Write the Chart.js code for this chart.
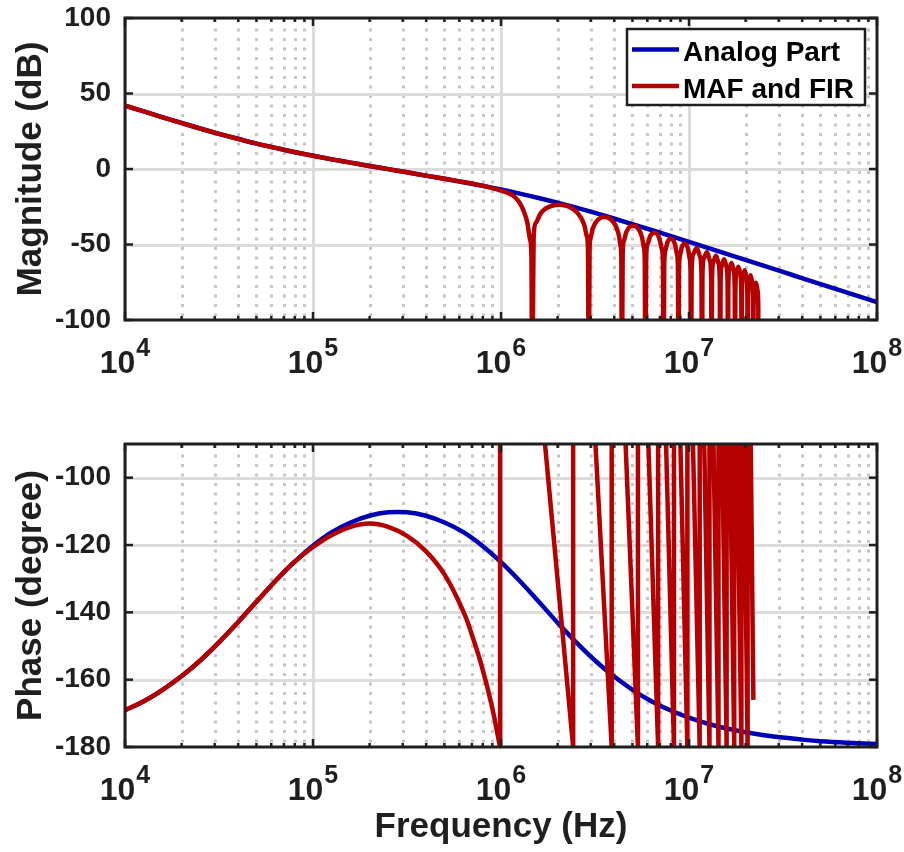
<!DOCTYPE html>
<html>
<head>
<meta charset="utf-8">
<script src="https://cdn.jsdelivr.net/npm/chart.js@4.4.1/dist/chart.umd.min.js"></script>
<style>
  html, body { margin: 0; padding: 0; background: #ffffff; }
  #wrap { position: relative; width: 904px; height: 852px; overflow: hidden; }
  canvas { position: absolute; left: 0; }
  #mag { top: 0; }
  #phase { top: 400px; }
</style>
</head>
<body>
<div id="wrap">
  <canvas id="mag" width="904" height="400"></canvas>
  <canvas id="phase" width="904" height="452"></canvas>
</div>
<script>
// ---- axis ticks ----
const xMajorTicks = [1e4, 1e5, 1e6, 1e7, 1e8];
const xMinorTicks = [
  2e4, 3e4, 4e4, 5e4, 6e4, 7e4, 8e4, 9e4,
  2e5, 3e5, 4e5, 5e5, 6e5, 7e5, 8e5, 9e5,
  2e6, 3e6, 4e6, 5e6, 6e6, 7e6, 8e6, 9e6,
  2e7, 3e7, 4e7, 5e7, 6e7, 7e7, 8e7, 9e7
];
const magTicks = [-100, -50, 0, 50, 100];
const phaseTicks = [-180, -160, -140, -120, -100];

// ---- analog part (Hz, dB, degree) ----
const freqAnalog = [
  1e4, 1.259e4, 1.585e4, 1.995e4, 2.512e4, 3.162e4, 3.981e4, 5.012e4, 6.31e4, 7.943e4,
  1e5, 1.259e5, 1.585e5, 1.995e5, 2.512e5, 3.162e5, 3.981e5, 5.012e5, 6.31e5, 7.943e5,
  1e6, 1.259e6, 1.585e6, 1.995e6, 2.512e6, 3.162e6, 3.981e6, 5.012e6, 6.31e6, 7.943e6,
  1e7, 1.259e7, 1.585e7, 1.995e7, 2.512e7, 3.162e7, 3.981e7, 5.012e7, 6.31e7, 7.943e7,
  1e8
];
const magAnalog = [
  42.0, 38.1, 34.2, 30.5, 26.8, 23.3, 20.0, 16.8, 14.0, 11.3,
  8.8, 6.4, 4.2, 2.0, -0.1, -2.2, -4.4, -6.5, -8.8, -11.1,
  -13.6, -16.3, -19.2, -22.3, -25.6, -29.1, -32.8, -36.6, -40.4, -44.3,
  -48.3, -52.2, -56.2, -60.2, -64.2, -68.2, -72.2, -76.2, -80.2, -84.2,
  -88.2
];
const phaseAnalog = [
  -169.1, -166.4, -163.0, -159.0, -154.3, -148.9, -143.0, -136.8, -130.7, -125.1,
  -120.2, -116.2, -113.3, -111.3, -110.3, -110.3, -111.3, -113.3, -116.2, -120.2,
  -125.1, -130.7, -136.8, -143.0, -148.9, -154.3, -159.0, -163.0, -166.4, -169.1,
  -171.3, -173.1, -174.5, -175.6, -176.5, -177.2, -177.8, -178.3, -178.6, -178.9,
  -179.1
];

// ---- MAF and FIR: magnitude (notches sit far below the axis floor) ----
const freqMafMag = [
  1e4, 1.259e4, 1.585e4, 1.995e4, 2.512e4, 3.162e4, 3.981e4, 5.012e4, 6.31e4, 7.943e4,
  1e5, 1.259e5, 1.585e5, 1.995e5, 2.512e5, 3.162e5, 3.981e5, 5.012e5, 6.31e5, 7.943e5,
  8.913e5, 1e6, 1.122e6, 1.202e6, 1.259e6, 1.318e6, 1.380e6, 1.429e6, 1.452e6, 1.465e6,
  1.494e6, 1.538e6, 1.612e6, 1.685e6, 1.758e6, 1.905e6, 2.051e6, 2.198e6, 2.344e6, 2.491e6,
  2.637e6, 2.710e6, 2.784e6, 2.857e6, 2.901e6, 2.930e6,
  2.959e6, 3.003e6, 3.077e6, 3.223e6, 3.370e6, 3.516e6, 3.663e6, 3.809e6, 3.956e6, 4.102e6,
  4.249e6, 4.322e6, 4.366e6, 4.395e6,
  4.439e6, 4.512e6, 4.615e6, 4.761e6, 4.908e6, 5.128e6, 5.347e6, 5.494e6, 5.640e6, 5.743e6,
  5.816e6, 5.860e6,
  5.919e6, 6.036e6, 6.226e6, 6.593e6, 6.959e6, 7.149e6, 7.266e6, 7.325e6,
  7.384e6, 7.501e6, 7.691e6, 8.058e6, 8.424e6, 8.614e6, 8.731e6, 8.790e6,
  8.849e6, 8.966e6, 9.156e6, 9.523e6, 9.889e6, 1.0079e7, 1.0196e7, 1.0255e7,
  1.0328e7, 1.0548e7, 1.0988e7, 1.1427e7, 1.1647e7, 1.172e7,
  1.1793e7, 1.2013e7, 1.2453e7, 1.2892e7, 1.3112e7, 1.3185e7,
  1.3258e7, 1.3478e7, 1.3918e7, 1.4357e7, 1.4577e7, 1.465e7,
  1.4723e7, 1.4943e7, 1.5383e7, 1.5822e7, 1.6042e7, 1.6115e7,
  1.6188e7, 1.6408e7, 1.6848e7, 1.7287e7, 1.7507e7, 1.758e7,
  1.7653e7, 1.7873e7, 1.8313e7, 1.8752e7, 1.8972e7, 1.9045e7,
  1.9118e7, 1.9338e7, 1.9778e7, 2.0217e7, 2.0437e7, 2.051e7,
  2.0583e7, 2.0803e7, 2.1243e7, 2.1682e7, 2.1902e7, 2.1975e7,
  2.2048e7, 2.2268e7, 2.2708e7, 2.3147e7, 2.3367e7, 2.344e7
];
const magMaf = [
  42.0, 38.1, 34.2, 30.5, 26.8, 23.3, 20.0, 16.8, 14.0, 11.3,
  8.8, 6.4, 4.2, 2.0, -0.1, -2.2, -4.4, -6.5, -8.6, -11.0,
  -12.5, -14.3, -16.6, -19.4, -22.6, -27.6, -35.5, -47.0, -58.0, -150,
  -43.0, -35.4, -30.1, -27.3, -25.7, -24.0, -23.6, -24.2, -25.5, -27.8,
  -31.5, -34.1, -37.9, -44.2, -52.4, -150,
  -52.7, -45.0, -39.4, -34.6, -32.5, -31.8, -32.0, -33.0, -35.1, -38.4,
  -44.6, -50.8, -58.9, -150,
  -55.6, -47.5, -42.6, -39.3, -37.7, -37.5, -39.2, -41.6, -45.9, -51.4,
  -60.1, -150,
  -58.4, -49.4, -44.2, -42.2, -46.1, -52.2, -61.9, -150,
  -62.6, -53.5, -48.3, -46.1, -49.9, -55.9, -65.5, -150,
  -66.2, -57.1, -51.8, -49.4, -53.1, -59.1, -68.7, -150,
  -67.4, -56.3, -52.4, -57.7, -69.5, -150,
  -70.2, -59.0, -55.1, -60.3, -72.1, -150,
  -72.7, -61.5, -57.5, -62.6, -74.4, -150,
  -75.1, -63.8, -59.7, -64.8, -76.5, -150,
  -77.7, -66.4, -62.3, -67.3, -79.1, -150,
  -80.2, -68.9, -64.7, -69.7, -81.4, -150,
  -82.6, -71.3, -67.0, -72.0, -83.7, -150,
  -85.9, -74.5, -70.3, -75.3, -86.9, -150,
  -91.0, -79.7, -75.4, -80.4, -92.0, -150
];

// ---- MAF and FIR: phase below the first wrap ----
const freqMafPhase = [
  1e4, 1.259e4, 1.585e4, 1.995e4, 2.512e4, 3.162e4, 3.981e4, 5.012e4, 6.31e4, 7.943e4,
  1e5, 1.259e5, 1.585e5, 1.995e5, 2.512e5, 3.162e5, 3.981e5, 5.012e5, 6.31e5, 7.079e5,
  7.943e5, 8.913e5, 9.886e5
];
const phaseMaf = [
  -169.1, -166.4, -163.0, -159.0, -154.3, -148.9, -143.0, -136.8, -130.7, -125.1,
  -120.6, -117.0, -114.6, -113.6, -114.6, -117.3, -121.8, -128.8, -139.8, -147.5,
  -156.5, -167.5, -180
];

// ---- MAF and FIR: wrapped phase (jumps from -180 to +180) ----
const freqMafWrap = [
  9.886e5, 9.886e5, 1.714e6, 2.42e6, 2.42e6, 3.18e6, 3.88e6, 3.88e6, 4.6e6, 5.35e6,
  5.35e6, 6.08e6, 6.85e6, 6.85e6, 7.55e6, 8.32e6, 8.32e6, 9.0e6, 9.8e6, 9.8e6,
  1.05e7, 1.14e7, 1.14e7, 1.205e7, 1.285e7, 1.285e7, 1.35e7, 1.435e7, 1.435e7, 1.5e7,
  1.585e7, 1.585e7, 1.65e7, 1.74e7, 1.74e7, 1.8e7, 1.9e7, 1.9e7, 1.96e7, 2.05e7,
  2.05e7, 2.13e7, 2.2e7
];
const phaseMafWrap = [
  -180, 180, -90, -180, 180, -90, -180, 180, -90, -180,
  180, -90, -180, 180, -90, -180, 180, -90, -180, 180,
  -90, -180, 180, -90, -180, 180, -90, -180, 180, -90,
  -180, 180, -90, -180, 180, -90, -180, 180, -90, -180,
  180, -90, -166
];

const BLUE = '#0000b4';
const RED = '#b40000';
const INK = '#1f1f1f';
const FONT = '"Liberation Sans", Arial, Helvetica, sans-serif';

function pts(xs, ys) { return xs.map((v, i) => ({ x: v, y: ys[i] })); }

// grid underneath the curves, box and inward ticks on top of them
const framePlugin = {
  id: 'frame',
  beforeDatasetsDraw(chart, args, opts) {
    const { ctx, chartArea: a, scales: { x, y } } = chart;
    ctx.save();
    ctx.beginPath();
    ctx.rect(a.left, a.top, a.width, a.height);
    ctx.clip();
    ctx.lineWidth = 3;
    ctx.strokeStyle = '#c6c6c6';
    ctx.setLineDash([3, 6.5]);
    for (const v of xMinorTicks) {
      const px = Math.round(x.getPixelForValue(v)) + 0.5;
      ctx.beginPath(); ctx.moveTo(px, a.top + 1); ctx.lineTo(px, a.bottom); ctx.stroke();
    }
    ctx.setLineDash([]);
    ctx.strokeStyle = '#dcdcdc';
    for (const v of xMajorTicks) {
      const px = Math.round(x.getPixelForValue(v)) + 0.5;
      ctx.beginPath(); ctx.moveTo(px, a.top); ctx.lineTo(px, a.bottom); ctx.stroke();
    }
    for (const v of opts.yTicks) {
      const py = Math.round(y.getPixelForValue(v)) + 0.5;
      ctx.beginPath(); ctx.moveTo(a.left, py); ctx.lineTo(a.right, py); ctx.stroke();
    }
    ctx.restore();
  },
  afterDatasetsDraw(chart, args, opts) {
    const { ctx, chartArea: a, scales: { x, y } } = chart;
    ctx.save();
    ctx.strokeStyle = INK;
    ctx.lineWidth = 2.5;
    const tick = (x1, y1, x2, y2) => { ctx.beginPath(); ctx.moveTo(x1, y1); ctx.lineTo(x2, y2); ctx.stroke(); };
    for (const v of xMinorTicks) {
      const px = x.getPixelForValue(v);
      tick(px, a.bottom, px, a.bottom - 4);
      tick(px, a.top, px, a.top + 4);
    }
    for (const v of xMajorTicks) {
      const px = x.getPixelForValue(v);
      tick(px, a.bottom, px, a.bottom - 8);
      tick(px, a.top, px, a.top + 8);
    }
    for (const v of opts.yTicks) {
      const py = y.getPixelForValue(v);
      tick(a.left, py, a.left + 8, py);
      tick(a.right, py, a.right - 8, py);
    }
    ctx.lineWidth = 3;
    ctx.strokeRect(a.left, a.top, a.width, a.height);
    ctx.restore();
  },
  afterDraw(chart) {
    // decade labels 10^n under the frequency axis
    const { ctx, chartArea: a, scales: { x } } = chart;
    ctx.save();
    ctx.fillStyle = INK;
    ctx.textBaseline = 'alphabetic';
    ctx.textAlign = 'left';
    const base = 'bold 32px ' + FONT;
    const sup = 'bold 25px ' + FONT;
    for (const v of xMajorTicks) {
      const px = x.getPixelForValue(v);
      const ex = String(Math.round(Math.log10(v)));
      ctx.font = base; const wb = ctx.measureText('10').width;
      ctx.font = sup; const we = ctx.measureText(ex).width;
      const left = px - (wb + 1 + we) / 2;
      ctx.font = base; ctx.fillText('10', left, a.bottom + 53);
      ctx.font = sup; ctx.fillText(ex, left + wb + 1, a.bottom + 36);
    }
    ctx.restore();
  }
};

// legend box in the upper right corner of the magnitude axes
const legendPlugin = {
  id: 'legendBox',
  afterDatasetsDraw(chart) {
    const { ctx } = chart;
    const items = [];
    for (const ds of chart.data.datasets) {
      if (!items.find(it => it.label === ds.label)) items.push({ label: ds.label, color: ds.borderColor });
    }
    items.sort((p, q) => (p.label === 'Analog Part' ? -1 : 1));
    ctx.save();
    ctx.fillStyle = '#ffffff';
    ctx.fillRect(627, 29, 238, 76);
    ctx.strokeStyle = INK;
    ctx.lineWidth = 2.5;
    ctx.strokeRect(627, 29, 238, 76);
    ctx.font = 'bold 28px ' + FONT;
    ctx.textBaseline = 'alphabetic';
    ctx.textAlign = 'left';
    items.forEach((it, i) => {
      const cy = 49.5 + i * 36.5;
      ctx.strokeStyle = it.color;
      ctx.lineWidth = 4.5;
      ctx.beginPath(); ctx.moveTo(632, cy); ctx.lineTo(679, cy); ctx.stroke();
      ctx.fillStyle = '#000000';
      ctx.fillText(it.label, 683, cy + 11.5);
    });
    ctx.restore();
  }
};

function yScale(min, max, ticks, title) {
  return {
    min, max,
    grid: { display: false, drawTicks: false },
    border: { display: false },
    ticks: { font: { family: FONT, size: 28, weight: 'bold' }, color: INK, padding: 14 },
    afterBuildTicks: s => { s.ticks = ticks.map(v => ({ value: v })); },
    afterFit: s => { s.width = 125; s.paddingTop = 0; s.paddingBottom = 0; },
    title: { display: true, text: title, color: INK, font: { family: FONT, size: 35, weight: 'bold' }, padding: { top: 10, bottom: 0 } }
  };
}

function xScale(height, title) {
  const t = title
    ? { display: true, text: title, color: INK, font: { family: FONT, size: 35, weight: 'bold' }, padding: { top: 0, bottom: 4 } }
    : { display: false };
  return {
    type: 'logarithmic', min: 1e4, max: 1e8,
    grid: { display: false, drawTicks: false },
    border: { display: false },
    ticks: { display: false },
    afterBuildTicks: s => { s.ticks = xMajorTicks.map(v => ({ value: v, major: true })); },
    afterFit: s => { s.height = height; s.paddingLeft = 0; s.paddingRight = 0; },
    title: t
  };
}

const lineStyle = { borderWidth: 4.5, pointRadius: 0, fill: false };

new Chart(document.getElementById('mag'), {
  type: 'line',
  data: {
    datasets: [
      { label: 'Analog Part', data: pts(freqAnalog, magAnalog), borderColor: BLUE, order: 1, tension: 0.4, ...lineStyle },
      { label: 'MAF and FIR', data: pts(freqMafMag, magMaf), borderColor: RED, order: 0, cubicInterpolationMode: 'monotone', ...lineStyle }
    ]
  },
  options: {
    responsive: false, animation: false, events: [],
    layout: { padding: { left: 0, right: 27, top: 18, bottom: 0 } },
    plugins: { legend: { display: false }, tooltip: { enabled: false }, frame: { yTicks: magTicks } },
    scales: { x: xScale(80, null), y: yScale(-100, 100, magTicks, 'Magnitude (dB)') }
  },
  plugins: [framePlugin, legendPlugin]
});

new Chart(document.getElementById('phase'), {
  type: 'line',
  data: {
    datasets: [
      { label: 'Analog Part', data: pts(freqAnalog, phaseAnalog), borderColor: BLUE, order: 2, tension: 0.4, ...lineStyle },
      { label: 'MAF and FIR', data: pts(freqMafPhase, phaseMaf), borderColor: RED, order: 1, tension: 0.4, ...lineStyle },
      { label: 'MAF and FIR', data: pts(freqMafWrap, phaseMafWrap), borderColor: RED, order: 0, tension: 0, ...lineStyle }
    ]
  },
  options: {
    responsive: false, animation: false, events: [],
    layout: { padding: { left: 0, right: 27, top: 44, bottom: 0 } },
    plugins: { legend: { display: false }, tooltip: { enabled: false }, frame: { yTicks: phaseTicks } },
    scales: { x: xScale(105, 'Frequency (Hz)'), y: yScale(-180, -90, phaseTicks, 'Phase (degree)') }
  },
  plugins: [framePlugin]
});
</script>
</body>
</html>
